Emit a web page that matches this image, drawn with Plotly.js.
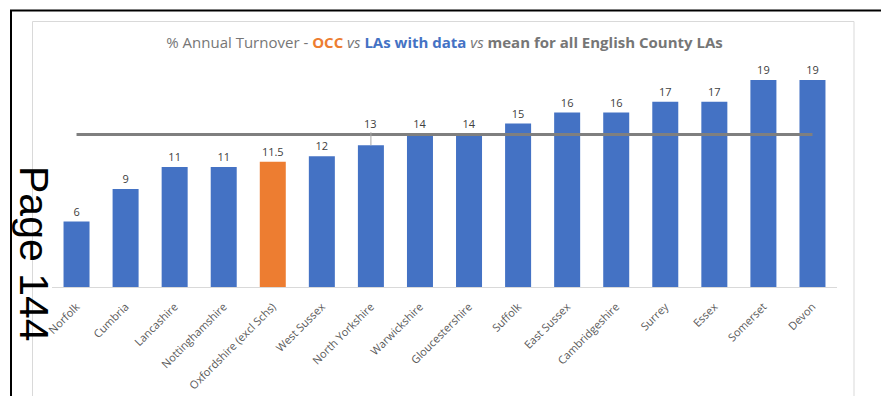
<!DOCTYPE html>
<html>
<head>
<meta charset="utf-8">
<script src="https://cdn.plot.ly/plotly-3.0.1.min.js"></script>
<style>
  html, body { margin: 0; padding: 0; background: #ffffff; }
  #chart { width: 881px; height: 396px; }
</style>
</head>
<body>
<div id="chart"></div>
<script>
// Annual turnover (%) by English county local authority
const authorities = [
  "Norfolk", "Cumbria", "Lancashire", "Nottinghamshire", "Oxfordshire (excl Schs)",
  "West Sussex", "North Yorkshire", "Warwickshire", "Gloucestershire", "Suffolk",
  "East Sussex", "Cambridgeshire", "Surrey", "Essex", "Somerset", "Devon"
];
const turnover = [6, 9, 11, 11, 11.5, 12, 13, 14, 14, 15, 16, 16, 17, 17, 19, 19];
const valueLabels = ["6", "9", "11", "11", "11.5", "12", "13", "14", "14", "15", "16", "16", "17", "17", "19", "19"];
const highlighted = "Oxfordshire (excl Schs)";
// this label sits under the mean line, so it is lifted above it with a leader line
const liftedLabel = "North Yorkshire";
const countyMean = 14;

const BLUE = "#4472C4";
const ORANGE = "#ED7D31";
const FONT = "Open Sans, Liberation Sans, Arial, sans-serif";

const W = 881, H = 396;
const margin = { l: 52, r: 44, t: 69, b: 109 };
const plotW = W - margin.l - margin.r;
const plotH = H - margin.t - margin.b;
// pixel -> paper coordinate helpers for the page decorations
const px = v => (v - margin.l) / plotW;
const py = v => (H - margin.b - v) / plotH;

const liftedIdx = authorities.indexOf(liftedLabel);

const bars = {
  type: "bar",
  x: authorities,
  y: turnover,
  text: valueLabels.map((t, i) => i === liftedIdx ? "" : t),
  textposition: "outside",
  textfont: { family: FONT, size: 11, color: "#404040" },
  cliponaxis: false,
  marker: { color: authorities.map(a => a === highlighted ? ORANGE : BLUE) },
  hoverinfo: "x+y",
  showlegend: false
};

const meanLine = {
  type: "scatter",
  mode: "lines",
  x: [authorities[0], authorities[authorities.length - 1]],
  y: [countyMean, countyMean],
  line: { color: "#7F7F7F", width: 3 },
  hoverinfo: "y",
  showlegend: false
};

const titleText =
  '<span style="font-weight:normal">% Annual Turnover - </span>' +
  '<b><span style="color:' + ORANGE + '">OCC</span></b>' +
  '<i> vs </i>' +
  '<b><span style="color:' + BLUE + '">LAs with data</span></b>' +
  '<i> vs </i>' +
  '<b>mean for all English County LAs</b>';

const layout = {
  width: W,
  height: H,
  margin: margin,
  paper_bgcolor: "#ffffff",
  plot_bgcolor: "#ffffff",
  bargap: 0.47,
  title: {
    text: titleText,
    font: { family: FONT, size: 15, color: "#767676" },
    x: 0.5,
    xref: "paper",
    xanchor: "center",
    y: 1 - 43 / H,
    yanchor: "middle"
  },
  xaxis: {
    tickangle: -45,
    tickfont: { family: FONT, size: 11, color: "#595959" },
    showline: true,
    linecolor: "#D9D9D9",
    linewidth: 1,
    ticks: "",
    ticklabelstandoff: 8,
    showgrid: false,
    zeroline: false,
    fixedrange: true
  },
  yaxis: {
    range: [0, 20],
    visible: false,
    showgrid: false,
    zeroline: false,
    fixedrange: true
  },
  shapes: [
    // outer page rule (top and left)
    { type: "line", xref: "paper", yref: "paper", x0: px(10), x1: px(W + 2), y0: py(10.5), y1: py(10.5),
      line: { color: "#000000", width: 2 } },
    { type: "line", xref: "paper", yref: "paper", x0: px(11), x1: px(11), y0: py(10), y1: py(H + 2),
      line: { color: "#000000", width: 2 } },
    // chart frame
    { type: "rect", xref: "paper", yref: "paper", x0: px(32.5), x1: px(854), y0: py(21.5), y1: py(H + 5),
      line: { color: "#D9D9D9", width: 1 }, fillcolor: "rgba(0,0,0,0)" }
  ],
  annotations: [
    {
      x: authorities[liftedIdx],
      y: turnover[liftedIdx],
      xref: "x", yref: "y",
      text: valueLabels[liftedIdx],
      showarrow: true,
      arrowhead: 0,
      arrowwidth: 1,
      arrowcolor: "#A6A6A6",
      standoff: 0,
      ax: 0,
      ay: -22,
      font: { family: FONT, size: 11, color: "#404040" }
    },
    {
      text: "Page 144",
      xref: "paper", yref: "paper",
      x: px(34), y: py(254),
      xanchor: "center", yanchor: "middle",
      textangle: 90,
      showarrow: false,
      font: { family: "Liberation Sans, Arial, sans-serif", size: 41, color: "#000000" }
    }
  ]
};

Plotly.newPlot("chart", [bars, meanLine], layout, { displayModeBar: false, staticPlot: true });
</script>
</body>
</html>
